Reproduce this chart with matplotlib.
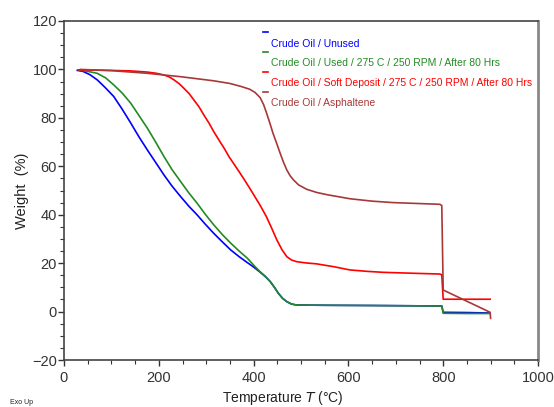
import matplotlib
matplotlib.use("Agg")
import matplotlib.pyplot as plt
from matplotlib.ticker import MultipleLocator

plt.rcParams['font.family'] = ['Liberation Sans', 'DejaVu Sans']

# Temperature (°C) / Weight (%)
T_unused = [28, 40, 55, 70, 87, 105, 123, 141, 158, 176, 194, 211, 228, 246, 263, 281, 298, 316, 334, 352,
            370, 387, 400, 413, 425, 435, 444, 452, 461, 470, 480, 491, 550, 650, 797, 800, 850, 899]
W_unused = [99.6, 99.2, 97.8, 95.7, 92.5, 88.8, 83.5, 77.8, 72.2, 66.7, 61.4, 56.4, 51.8, 47.5, 43.6, 39.9, 36.1, 32.3, 28.8, 25.4,
            22.6, 20.2, 18.4, 16.4, 14.4, 12.4, 10.0, 7.6, 5.5, 4.1, 3.1, 2.7, 2.6, 2.5, 2.3, -0.3, -0.4, -0.6]

T_used = [30, 50, 70, 88, 105, 123, 141, 158, 176, 194, 211, 228, 246, 263, 281, 298, 316, 334, 352,
          370, 387, 400, 413, 425, 435, 444, 452, 461, 470, 480, 491, 550, 650, 797, 800, 850, 899]
W_used = [99.8, 99.2, 98.4, 96.5, 93.6, 90.2, 86.0, 81.0, 75.7, 69.8, 64.0, 58.6, 53.7, 49.1, 44.7, 40.2, 35.8, 31.8, 28.2,
          24.9, 22.0, 19.2, 16.6, 14.5, 12.4, 10.0, 7.6, 5.5, 4.1, 3.1, 2.7, 2.6, 2.5, 2.3, -0.7, -0.8, -0.8]

T_soft = [30, 100, 140, 176, 195, 211, 222, 232, 243, 253, 264, 274, 285, 295, 306, 316, 327, 338, 348, 359,
          370, 380, 390, 401, 414, 427, 438, 449, 460, 470, 480, 491, 510, 533, 570, 603, 640, 674, 740, 793,
          797, 800, 850, 899]
W_soft = [99.8, 99.6, 99.4, 98.9, 98.4, 97.7, 96.9, 95.7, 94.1, 92.2, 90.0, 87.4, 84.5, 81.2, 77.8, 74.3, 70.8, 67.4, 64.0, 60.8,
          57.6, 54.6, 51.5, 48.0, 43.8, 39.2, 34.5, 29.6, 25.5, 22.7, 21.3, 20.6, 20.1, 19.7, 18.5, 17.2, 16.6, 16.2, 15.8, 15.5,
          15.2, 5.1, 5.1, 5.1]

T_asph = [35, 100, 176, 246, 316, 350, 373, 392, 403, 414, 421, 427, 434, 441, 449, 456, 463, 470, 477, 484,
          495, 512, 533, 554, 603, 650, 695, 793, 797, 800, 899, 900]
W_asph = [100.0, 99.5, 98.4, 97.0, 95.3, 94.2, 93.0, 91.8, 90.5, 88.3, 85.5, 82.2, 78.0, 73.6, 69.3, 65.4, 61.7, 58.5, 56.1, 54.4,
          52.3, 50.5, 49.2, 48.3, 46.6, 45.6, 45.0, 44.3, 43.8, 8.9, -0.3, -2.8]

labels = ["Crude Oil / Unused",
          "Crude Oil / Used / 275 C / 250 RPM / After 80 Hrs",
          "Crude Oil / Soft Deposit / 275 C / 250 RPM / After 80 Hrs",
          "Crude Oil / Asphaltene"]
colors = ["#0000ff", "#228b22", "#ff0000", "#a83838"]

fig = plt.figure(figsize=(5.54, 4.07), dpi=100)
ax = fig.add_axes([64 / 554, 47 / 407, 474 / 554, 339 / 407])

series = [(T_unused, W_unused), (T_used, W_used), (T_soft, W_soft), (T_asph, W_asph)]
for (t, w), c in zip(series, colors):
    ax.plot(t, w, color=c, linewidth=1.2)

ax.set_xlim(0, 1000)
ax.set_ylim(-20, 120)
ax.xaxis.set_major_locator(MultipleLocator(200))
ax.xaxis.set_minor_locator(MultipleLocator(50))
ax.yaxis.set_major_locator(MultipleLocator(20))
ax.yaxis.set_minor_locator(MultipleLocator(5))
ax.tick_params(which="both", direction="out", colors="#333333", labelsize=10.5, top=False, right=False)
ax.tick_params(which="major", length=4, width=1)
ax.tick_params(which="minor", length=3, width=0.8)
ax.tick_params(axis="x", pad=4)
ax.tick_params(axis="y", pad=1)

for side in ["left", "bottom", "top"]:
    ax.spines[side].set_color("#444444")
    ax.spines[side].set_linewidth(1.2)
ax.spines["right"].set_color("#888888")
ax.spines["right"].set_linewidth(2)

ax.set_xlabel("Temperature $\\it{T}$ (°C)", fontsize=10, color="#222222")
ax.xaxis.set_label_coords((283 - 64) / 474, -(398 - 360) / 339)
ax.xaxis.label.set_va("center")
ax.set_ylabel("Weight  (%)", fontsize=10.5, color="#222222")
ax.yaxis.set_label_coords(-(64 - 22) / 474, 0.5)
ax.yaxis.label.set_va("center")

# legend: coloured text with small dash above each entry
text_y = [0.932, 0.876, 0.817, 0.758]
dash_y = [0.968, 0.909, 0.850, 0.791]
for lab, c, ty, dy in zip(labels, colors, text_y, dash_y):
    ax.plot([0.420, 0.431], [dy, dy], color=c, linewidth=1.2, transform=ax.transAxes)
    ax.text(0.437, ty, lab, color=c, fontsize=7.5, va="center", ha="left", transform=ax.transAxes)

fig.text(10 / 554, 1 - 402 / 407, "Exo Up", fontsize=5, color="#222222", va="center")

fig.savefig("out.png", dpi=100)
plt.close(fig)
